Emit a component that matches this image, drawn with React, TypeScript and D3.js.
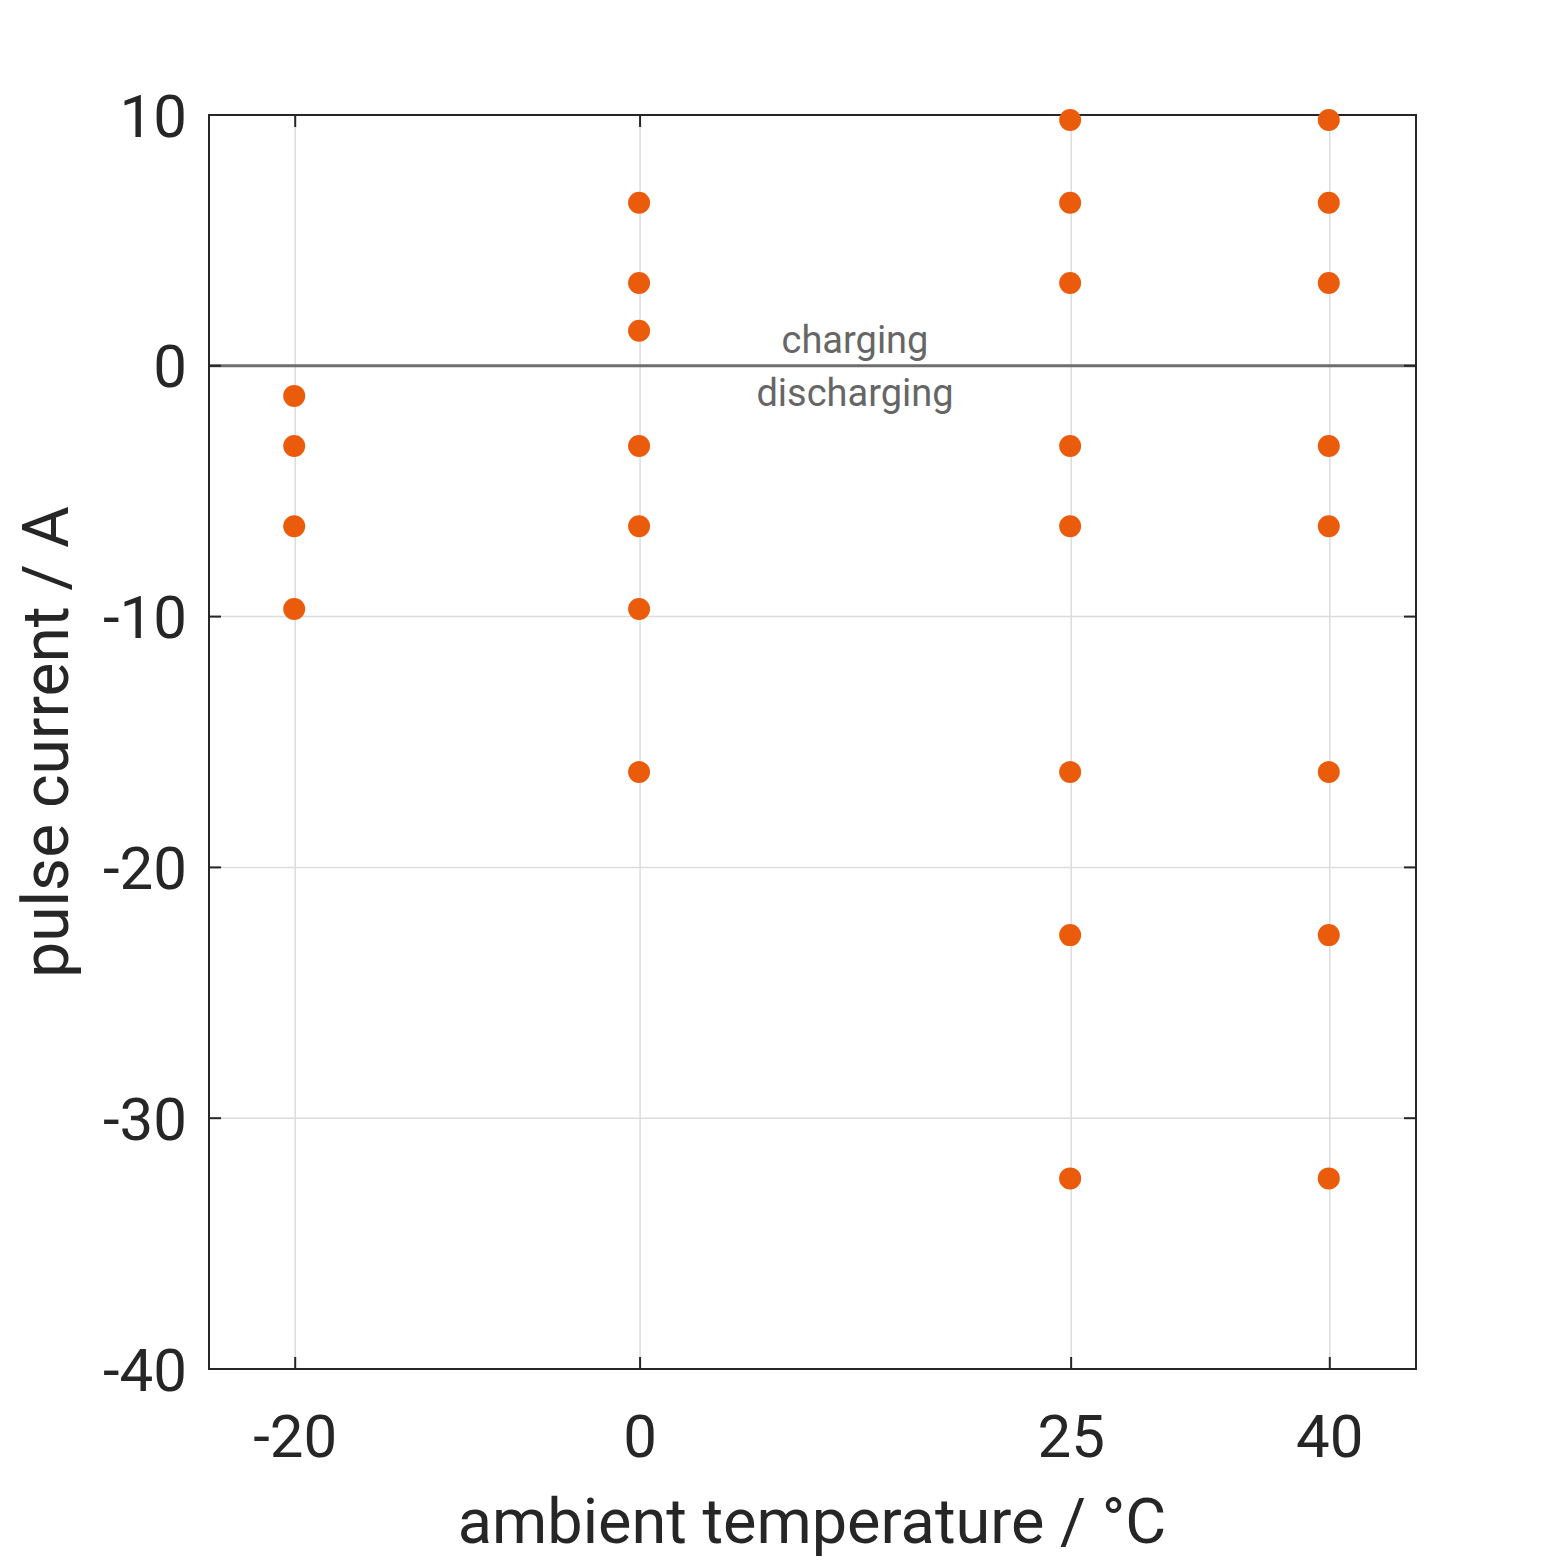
import * as d3 from "d3";
import { useEffect, useRef } from "react";

const temperatures = [-20, 0, 25, 40];
const currentsM20 = [-1.2, -3.2, -6.4, -9.7];
const currents0 = [6.5, 3.3, 1.4, -3.2, -6.4, -9.7, -16.2];
const currents25 = [9.8, 6.5, 3.3, -3.2, -6.4, -16.2, -22.7, -32.4];
const currents40 = [9.8, 6.5, 3.3, -3.2, -6.4, -16.2, -22.7, -32.4];
const yTicks = [10, 0, -10, -20, -30, -40];

const series = [currentsM20, currents0, currents25, currents40];

function App() {
  const ref = useRef<SVGSVGElement>(null);

  useEffect(() => {
    const width = 1563;
    const height = 1563;
    const left = 209, right = 1416, top = 115, bottom = 1369;
    const x = d3.scaleLinear().domain([-25, 45]).range([left, right]);
    const y = d3.scaleLinear().domain([-40, 10]).range([bottom, top]);
    const svg = d3.select(ref.current).attr("width", width).attr("height", height);
    svg.selectAll("*").remove();
    svg.append("rect").attr("width", width).attr("height", height).attr("fill", "white");

    const g = svg.append("g").attr("font-family", "Roboto, sans-serif");
    // grid
    g.selectAll(".gx").data(temperatures).join("line")
      .attr("x1", (d) => x(d)).attr("x2", (d) => x(d))
      .attr("y1", top).attr("y2", bottom)
      .attr("stroke", "#dcdcdc").attr("stroke-width", 1.5);
    g.selectAll(".gy").data(yTicks).join("line")
      .attr("x1", left).attr("x2", right)
      .attr("y1", (d) => y(d)).attr("y2", (d) => y(d))
      .attr("stroke", "#dcdcdc").attr("stroke-width", 1.5);

    // zero line
    g.append("line").attr("x1", left).attr("x2", right)
      .attr("y1", y(0)).attr("y2", y(0))
      .attr("stroke", "#6e6e6e").attr("stroke-width", 3);

    // frame
    g.append("rect").attr("x", left).attr("y", top)
      .attr("width", right - left).attr("height", bottom - top)
      .attr("fill", "none").attr("stroke", "#262626").attr("stroke-width", 2);

    const tl = 12;
    temperatures.forEach((t) => {
      g.append("line").attr("x1", x(t)).attr("x2", x(t)).attr("y1", bottom).attr("y2", bottom - tl).attr("stroke", "#262626").attr("stroke-width", 2);
      g.append("line").attr("x1", x(t)).attr("x2", x(t)).attr("y1", top).attr("y2", top + tl).attr("stroke", "#262626").attr("stroke-width", 2);
      g.append("text").attr("x", x(t)).attr("y", bottom + 88).attr("text-anchor", "middle")
        .attr("font-size", 60).attr("fill", "#262626").text(t);
    });
    yTicks.forEach((v) => {
      g.append("line").attr("x1", left).attr("x2", left + tl).attr("y1", y(v)).attr("y2", y(v)).attr("stroke", "#262626").attr("stroke-width", 2);
      g.append("line").attr("x1", right).attr("x2", right - tl).attr("y1", y(v)).attr("y2", y(v)).attr("stroke", "#262626").attr("stroke-width", 2);
      g.append("text").attr("x", left - 22).attr("y", y(v)).attr("dy", "0.36em").attr("text-anchor", "end")
        .attr("font-size", 60).attr("fill", "#262626").text(v);
    });

    g.append("text").attr("x", 812).attr("y", 1543).attr("text-anchor", "middle")
      .attr("font-size", 63).attr("fill", "#262626").text("ambient temperature / °C");
    g.append("text").attr("transform", `translate(68,${(top + bottom) / 2}) rotate(-90)`)
      .attr("text-anchor", "middle").attr("font-size", 64).attr("fill", "#262626").text("pulse current / A");

    g.append("text").attr("x", 855).attr("y", y(0) - 13).attr("text-anchor", "middle")
      .attr("font-size", 38).attr("fill", "#666").text("charging");
    g.append("text").attr("x", 855).attr("y", y(0) + 40).attr("text-anchor", "middle")
      .attr("font-size", 38).attr("fill", "#666").text("discharging");

    const pts = series.flatMap((vals, i) => vals.map((v) => ({ t: temperatures[i], v })));
    g.selectAll(".pt").data(pts).join("circle")
      .attr("cx", (d) => x(d.t) - 1).attr("cy", (d) => y(d.v))
      .attr("r", 11).attr("fill", "#ea5b0c");
  }, []);

  return <svg ref={ref} style={{ position: "absolute", left: 0, top: 0 }}></svg>;
}

export default App;
